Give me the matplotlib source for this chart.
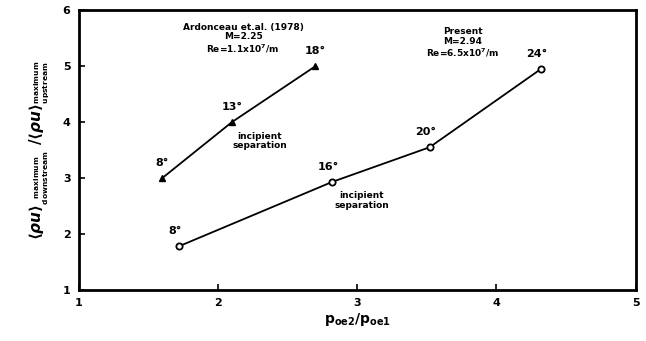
import matplotlib.pyplot as plt

# Ardonceau et al. (1978), M=2.25
x_ard = [1.6, 2.1, 2.7]
y_ard = [3.0, 4.0, 5.0]
lab_ard = ['8°', '13°', '18°']

# Present, M=2.94
x_pres = [1.72, 2.82, 3.52, 4.32]
y_pres = [1.78, 2.93, 3.55, 4.95]
lab_pres = ['8°', '16°', '20°', '24°']

plt.rcParams['font.family'] = ['DejaVu Sans']
plt.rcParams['font.weight'] = 'bold'

fig = plt.figure(figsize=(6.46, 3.41), dpi=100)
ax = fig.add_axes([0.122, 0.15, 0.862, 0.82])

ax.plot(x_ard, y_ard, 'k-', lw=1.3, marker='^', ms=4.5, mfc='k')
ax.plot(x_pres, y_pres, 'k-', lw=1.3, marker='o', ms=4.5, mfc='white', mew=1.3)

# angle labels
for x, y, s in zip(x_ard, y_ard, lab_ard):
    ax.text(x, y + 0.18, s, ha='center', va='bottom', fontsize=8, fontweight='bold')
for x, y, s in zip(x_pres, y_pres, lab_pres):
    ax.text(x - 0.03, y + 0.18, s, ha='center', va='bottom', fontsize=8, fontweight='bold')

ax.text(2.18, 5.78, 'Ardonceau et.al. (1978)\nM=2.25\nRe=1.1x10$^7$/m',
        ha='center', va='top', fontsize=6.5, fontweight='bold', linespacing=1.1)
ax.text(3.76, 5.7, 'Present\nM=2.94\nRe=6.5x10$^7$/m',
        ha='center', va='top', fontsize=6.5, fontweight='bold', linespacing=1.1)
ax.text(2.3, 3.66, 'incipient\nseparation', ha='center', va='center',
        fontsize=6.5, fontweight='bold', linespacing=1.1)
ax.text(3.03, 2.6, 'incipient\nseparation', ha='center', va='center',
        fontsize=6.5, fontweight='bold', linespacing=1.1)

ax.set_xlim(1, 5)
ax.set_ylim(1, 6)
ax.set_xticks([1, 2, 3, 4, 5])
ax.set_yticks([1, 2, 3, 4, 5, 6])
ax.tick_params(direction='in', length=4, width=1.2, labelsize=8, pad=6)
for lab in ax.get_xticklabels() + ax.get_yticklabels():
    lab.set_fontweight('bold')
for sp in ax.spines.values():
    sp.set_linewidth(2)

ax.set_xlabel(r'$\mathbf{p_{oe2}/p_{oe1}}$', fontsize=10, labelpad=2)
ax.set_ylabel(r'$\langle\rho u\rangle_{\genfrac{}{}{0}{}{\mathrm{maximum}}{\mathrm{downstream}}}'
              r'\ /\langle\rho u\rangle_{\genfrac{}{}{0}{}{\mathrm{maximum}}{\mathrm{upstream}}}$',
              fontsize=11, labelpad=8)

plt.savefig('out.png', dpi=100)
